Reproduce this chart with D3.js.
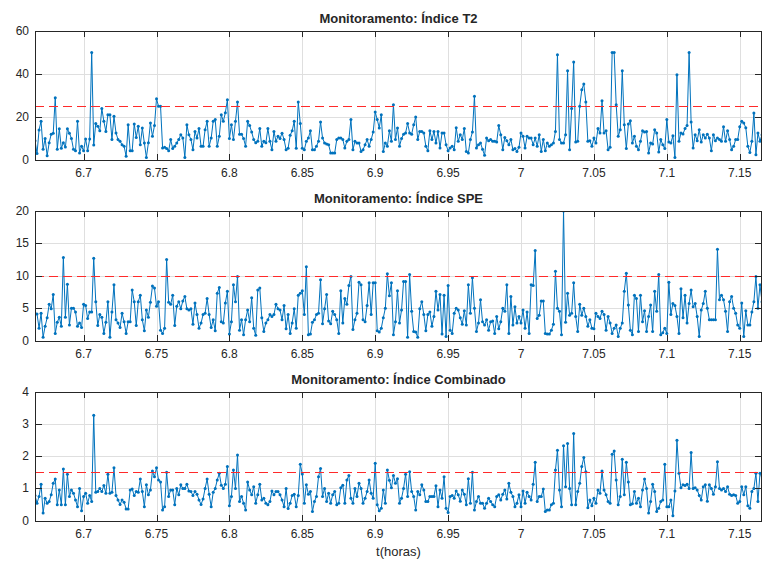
<!DOCTYPE html>
<html>
<head>
<meta charset="utf-8">
<script src="https://cdn.jsdelivr.net/npm/d3@7"></script>
<style>
  body { margin: 0; background: #fff; }
  svg { display: block; }
  text { font-family: "Liberation Sans", Arial, Helvetica, sans-serif; fill: #262626; }
</style>
</head>
<body>
<svg id="chart" width="763" height="563"></svg>
<script>
// Monitoring indices sampled every 5 s, from 6h40 onwards (time in hours)
const tStart = 6 + 40 / 60;
const dtHours = 5 / 3600;

// Hotelling T2 index
const t2 = [
  9,3,14,18,5,10,2,8,12,12.5,29,5,14.5,5.5,8,6,14.5,12.5,10,5,4.3,18,3.3,6.4,4.3,9.8,4.3,9.8,50,7,
  17,15.7,13.6,24,18,13.3,21,21,9.5,20.3,12.6,9.5,8.7,7.1,6.4,1.7,16.4,4.3,4.3,16.7,10.5,15.7,7.1,14.9,7.9,1.2,8,17.2,11,16,
  28.5,25,25,5.6,5.9,5.3,4.3,9.5,5.3,6.4,7.9,9.5,11.8,10.2,1.2,16.4,11.8,9.5,4.8,13.3,10.2,14.6,6.4,6.4,14.1,18,6.4,10.2,18,18.8,
  6.4,11,
  21,18,22,28,10,16.4,9.5,18,27,12,12,10,6.4,18,16,13,9.5,8,8.7,14.6,6.4,8.7,8,14.6,8.7,4.8,13.3,8.7,11,10,
  12.5,9.5,4.8,5.5,11.5,13.6,18,5.5,27,17,5.5,4.8,8.7,10.2,13.6,4.8,4.8,6.4,8.7,17.7,10.2,7.9,7.5,7.1,3.3,3.3,3.3,9.5,10.2,10.2,
  9.5,5.6,8.7,9.5,18.8,4.8,8.7,7.9,7.9,4,4.8,7.1,9.5,6.4,9.5,13,22.3,18.8,14.9,21,4,7.9,6.4,13.6,8.7,25.7,9.5,14.9,6.4,10,
  12,
  12.6,17,12.6,12,16.4,20,9.5,13.3,13.3,12.6,6.4,4.3,13.6,9.5,13.3,7.9,13.3,5.6,12.6,12.6,7.1,4.3,5.6,6.4,4.8,15,8.7,11.8,9.5,14.6,
  4,3.3,9.5,13,29.6,5.6,7.1,7.9,5,2.2,10.2,9,9.5,8.7,8.7,8.4,16,11.8,4.8,10.5,9,7.1,9.5,4.8,5.3,4,5.9,12.6,11,5.6,
  11,10.2,10.2,7.1,10.2,6.4,11.8,4,9.5,4.3,7.9,6.4,7.1,7.9,13.3,49,9.5,7.9,7.9,11.8,41.5,4.8,24,45.6,8.4,8.7,25,32.7,35.3,27,
  8.7,9,
  6.4,10.2,7.9,14.6,12.6,27.6,12.6,13.6,4.8,5.9,50,50,25.7,11,14.1,41.5,16.4,5.3,16.7,18.3,7.9,11,6.4,4.8,8.7,13.6,13,13.3,3.3,7.9,
  7.4,14.1,12.6,3.7,9.5,7.1,5.3,18.8,8.4,7.9,11.3,1.2,39.7,8.7,12.6,12.1,14.6,16.1,50,17.7,5.6,11.8,9,14.1,8.4,11.8,10.2,12,10.2,4.3,
  11.8,9,10.2,9.5,8.7,15.5,8.7,13.6,9.5,4.8,6.4,9.5,9.5,15.5,18,17.2,15,6.4,3.5,8.7,21.9,2.5,12.6,8.7,11.8
];

// Squared prediction error index
const spe = [
  4.2,4.1,1.9,4.2,0.5,2.2,3.5,5.6,4.9,7.1,1.1,2.8,3.6,2.2,12.8,3.6,8.7,2.4,5,5,4.4,2.2,2.7,2,5.6,5.4,3.4,4.4,4.4,12.7,
  6,2.3,4,3.6,1.1,2.8,6,0.5,4.4,8.6,3.2,2.7,2,4.2,2.9,1.1,2.9,2.9,7.8,6,2.3,6,7,3.2,1.5,4.7,3.6,5.9,8.4,8.1,
  5.3,6,1.6,1.1,1.9,12.5,5.9,5.6,7,2.3,5.3,6,4.9,6.1,6.8,4.9,4.7,4.9,2.5,5.8,4,1.9,2.7,4,4.2,6.5,4,2,3.2,1.5,
  7.3,8.2,
  2.9,2.7,5.8,7.6,1,2.9,8.6,6,9.9,1.6,3.2,0.9,3.2,4.7,2.9,6.6,1.9,0.8,7.8,8.1,3.5,1.4,2.7,3.2,4,3.7,4,5.6,4.9,4.7,
  3.2,5.4,1.8,4,1.1,2.7,4.9,1.9,7,7.3,7.7,4,11.4,0.9,1,2.8,3.2,4,4.2,9.4,2.6,4.9,7.1,3,2.6,4.5,4,3.2,1.1,7.7,
  2.7,6.5,5.6,8.5,9.9,1.7,3.2,4.2,9,8.6,3.2,2.9,5.4,8.9,4,8.9,8.9,1.5,1.3,1.9,3.5,5,10.3,6.9,8.9,0.9,2.9,7.7,2.7,4.7,
  9.1,
  9.1,0.5,10.2,4.5,1.4,1.3,0.5,4.9,6,4,1.5,4,4.4,2.2,3.7,7.6,4.7,7.1,1,7,0.6,8.5,1.6,1.1,4.2,5,4.7,3.5,2.5,4.6,
  2.4,8.6,4.2,9.7,5,1.4,2.7,6.3,2.9,2.4,3.2,1.6,2.9,3,1.1,3.7,1.8,2.9,5,4.5,8.6,1.1,6.8,2.4,5.2,2.7,3.7,2.7,4.7,1.9,
  4.4,1.1,8.6,8.5,13.9,3.4,3.9,6.1,6.1,1.1,1,1,1.6,2.5,10.7,5,4.5,0.9,20,2.8,7.3,3.9,4.2,8.9,3.7,1.4,5.6,3.9,5,3.7,
  2.2,3.2,
  1.9,1.8,4.2,3.7,3.4,4.5,4,1.6,3.7,2.7,1.1,1.9,2.4,0.6,1.9,2.7,7.6,10.4,5.5,1.6,0.9,7,6.5,1.4,7,2.9,4.6,1.4,3.7,5.5,
  1.4,7.6,4.5,10.2,0.9,1.2,1.9,1.1,9,4,5.7,5.4,3.7,1.1,8,3.5,7,2.7,5.7,7.8,5.2,5.7,3.7,0.6,4.7,5.7,7.6,5,3.2,3.2,
  3.2,3.2,14.1,6.3,7,6.3,4.5,1.4,6,6.8,5,4.2,2.4,1.9,5.8,0.6,4.6,2.4,2.4,4.4,6,9.9,5,8.6,6
];

// Combined index
const combined = [
  0.78,0.54,0.75,1.13,0.23,0.69,0.54,0.59,0.8,1.16,1.29,0.49,0.95,0.49,1.6,0.49,1.44,0.75,0.95,0.85,0.64,0.43,1.0,0.3,0.75,0.85,0.54,0.78,0.59,3.28,
  0.88,0.9,1.0,0.9,1.09,0.85,1.44,0.85,0.88,1.64,0.78,0.64,0.5,0.64,0.57,0.36,0.36,0.95,0.98,0.78,0.9,0.88,1.29,0.9,0.43,1.11,0.8,0.95,1.54,1.36,
  1.64,1.26,1.2,0.33,0.43,1.5,0.75,0.95,0.95,0.49,1.0,0.8,1.11,1.0,1.0,1.13,0.92,0.9,0.78,0.9,0.82,0.64,0.5,0.67,1.0,1.29,0.82,0.43,0.88,1.0,
  1.26,1.47,
  1.1,1.0,1.13,1.68,0.46,0.75,1.57,1.0,2.04,0.59,0.75,0.54,0.33,1.2,0.95,0.8,1.05,0.54,0.8,1.13,0.64,0.69,0.54,0.49,0.59,0.92,0.8,0.9,0.9,0.8,
  0.64,0.43,1.0,0.37,0.54,0.78,0.82,0.43,0.78,1.75,1.45,0.54,1.11,0.82,0.9,0.28,0.59,0.75,1.36,1.62,0.75,1.0,0.59,0.85,0.54,0.8,0.9,0.49,0.54,1.02,
  1.1,0.54,1.26,1.4,0.69,0.54,1.0,0.75,1.16,1.0,0.54,0.69,0.9,1.26,0.85,0.69,1.78,0.49,0.3,0.38,0.95,0.54,1.57,1.25,1.02,1.4,1.16,1.3,0.54,0.69,
  1.0,
  1.44,0.75,1.52,0.9,0.75,0.33,0.9,0.8,1.11,0.95,0.59,0.59,0.75,0.75,0.75,1.08,0.43,0.95,0.69,1.36,0.38,0.25,0.75,0.78,0.69,0.92,0.8,0.6,0.95,0.82,
  0.49,1.3,0.54,1.5,0.33,0.59,0.75,0.54,0.54,0.38,0.54,0.69,0.59,0.49,0.43,0.75,0.8,0.64,0.82,0.95,0.67,1.16,0.88,0.75,0.43,0.54,0.8,0.43,0.92,0.54,
  0.88,0.75,0.64,1.13,1.81,0.59,0.75,0.75,0.98,0.28,0.33,0.33,0.49,0.54,1.57,2.19,0.95,0.43,2.33,1.05,2.4,1.0,0.49,2.71,0.49,0.9,1.16,1.68,1.96,1.52,
  0.4,0.64,
  0.46,0.69,0.54,0.95,0.85,1.54,0.95,0.8,0.59,0.54,2.06,2.16,1.26,0.49,0.75,1.91,0.8,1.81,1.2,0.49,0.52,0.9,0.54,0.69,0.43,0.95,1.29,1.0,0.23,0.59,
  1.13,0.9,0.28,0.38,0.59,0.64,1.75,0.43,0.43,0.64,0.15,0.92,2.5,1.47,1.02,1.11,1.09,1.13,1.0,2.12,1.0,1.02,0.95,0.78,0.64,1.05,1.11,0.6,1.11,1.0,
  0.82,1.05,1.83,1.0,0.95,1.0,0.9,1.05,0.82,0.78,0.8,0.78,0.54,0.59,1.05,0.8,1.05,0.46,0.38,0.9,1.0,1.47,0.59,1.47,1.4
];

// Control limits of each index
const limits = [25, 10, 1.5];
const titles = ["Monitoramento: Índice T2", "Monitoramento: Índice SPE", "Monitoramento: Índice Combinado"];
const yTickSets = [[0, 20, 40, 60], [0, 5, 10, 15, 20], [0, 1, 2, 3, 4]];
const xTicks = [6.7, 6.75, 6.8, 6.85, 6.9, 6.95, 7, 7.05, 7.1, 7.15];
const xLabel = "t(horas)";

const times = d3.range(t2.length).map(i => tStart + i * dtHours);

// Layout of the three stacked axes
const left = 35, right = 762;
const boxes = [
  { top: 31, bottom: 160 },
  { top: 211, bottom: 340.5 },
  { top: 392, bottom: 520.5 }
];
const series = [t2, spe, combined];

const svg = d3.select("#chart");
const x = d3.scaleLinear().domain([times[0], times[times.length - 1]]).range([left, right]);
const fmt = d3.format("~g");
const lineColor = "#0072BD";
const axisColor = "#262626";
const gridColor = "#dfdfdf";

series.forEach((vals, k) => {
  const box = boxes[k];
  const yt = yTickSets[k];
  const y = d3.scaleLinear().domain([yt[0], yt[yt.length - 1]]).range([box.bottom, box.top]);
  const g = svg.append("g");

  const clipId = "clip" + k;
  svg.append("clipPath").attr("id", clipId)
    .append("rect").attr("x", left).attr("y", box.top)
    .attr("width", right - left).attr("height", box.bottom - box.top);

  // grid
  const grid = g.append("g").attr("shape-rendering", "crispEdges");
  grid.selectAll(".vx").data(xTicks).join("line")
    .attr("x1", d => Math.round(x(d)) + 0.5).attr("x2", d => Math.round(x(d)) + 0.5)
    .attr("y1", box.top).attr("y2", box.bottom)
    .attr("stroke", gridColor).attr("stroke-width", 1);
  grid.selectAll(".hy").data(yt.slice(1, -1)).join("line")
    .attr("x1", left).attr("x2", right)
    .attr("y1", d => Math.round(y(d)) + 0.5).attr("y2", d => Math.round(y(d)) + 0.5)
    .attr("stroke", gridColor).attr("stroke-width", 1);

  // series line and markers
  const pts = vals.map((v, i) => [times[i], v]);
  const plot = g.append("g").attr("clip-path", `url(#${clipId})`);
  plot.append("path")
    .attr("d", d3.line().x(d => x(d[0])).y(d => y(d[1]))(pts))
    .attr("fill", "none").attr("stroke", lineColor).attr("stroke-width", 1)
    .attr("stroke-linejoin", "round");
  plot.selectAll("circle").data(pts).join("circle")
    .attr("cx", d => x(d[0])).attr("cy", d => y(d[1])).attr("r", 1.5)
    .attr("fill", lineColor);

  // control limit
  const ly = Math.round(y(limits[k])) + 0.5;
  plot.append("line")
    .attr("x1", left).attr("x2", right)
    .attr("y1", ly).attr("y2", ly)
    .attr("stroke", "#ff2a2a").attr("stroke-width", 1.2)
    .attr("stroke-dasharray", "9,5");

  // box and ticks
  const frame = g.append("g").attr("shape-rendering", "crispEdges");
  frame.append("rect")
    .attr("x", left + 0.5).attr("y", Math.round(box.top) + 0.5)
    .attr("width", right - left - 1).attr("height", Math.round(box.bottom) - Math.round(box.top))
    .attr("fill", "none").attr("stroke", axisColor).attr("stroke-width", 1);
  const tx = 6, ty = 7;
  xTicks.forEach(d => {
    const px = Math.round(x(d)) + 0.5;
    frame.append("line").attr("x1", px).attr("x2", px)
      .attr("y1", box.bottom).attr("y2", box.bottom - tx).attr("stroke", axisColor);
    frame.append("line").attr("x1", px).attr("x2", px)
      .attr("y1", box.top).attr("y2", box.top + tx).attr("stroke", axisColor);
  });
  yt.forEach(d => {
    const py = Math.round(y(d)) + 0.5;
    frame.append("line").attr("x1", left).attr("x2", left + ty)
      .attr("y1", py).attr("y2", py).attr("stroke", axisColor);
    frame.append("line").attr("x1", right).attr("x2", right - ty)
      .attr("y1", py).attr("y2", py).attr("stroke", axisColor);
  });

  // tick labels
  g.selectAll(".xl").data(xTicks).join("text")
    .attr("x", d => x(d)).attr("y", box.bottom + 17)
    .attr("text-anchor", "middle").attr("font-size", 12)
    .text(d => fmt(d));
  g.selectAll(".yl").data(yt).join("text")
    .attr("x", left - 6).attr("y", d => y(d) + 4)
    .attr("text-anchor", "end").attr("font-size", 12)
    .text(d => fmt(d));

  // title
  g.append("text")
    .attr("x", (left + right) / 2).attr("y", box.top - 8)
    .attr("text-anchor", "middle").attr("font-size", 13).attr("font-weight", "bold")
    .attr("fill", "#000")
    .text(titles[k]);
});

svg.append("text")
  .attr("x", (left + right) / 2).attr("y", 556)
  .attr("text-anchor", "middle").attr("font-size", 13)
  .text(xLabel);
</script>
</body>
</html>
